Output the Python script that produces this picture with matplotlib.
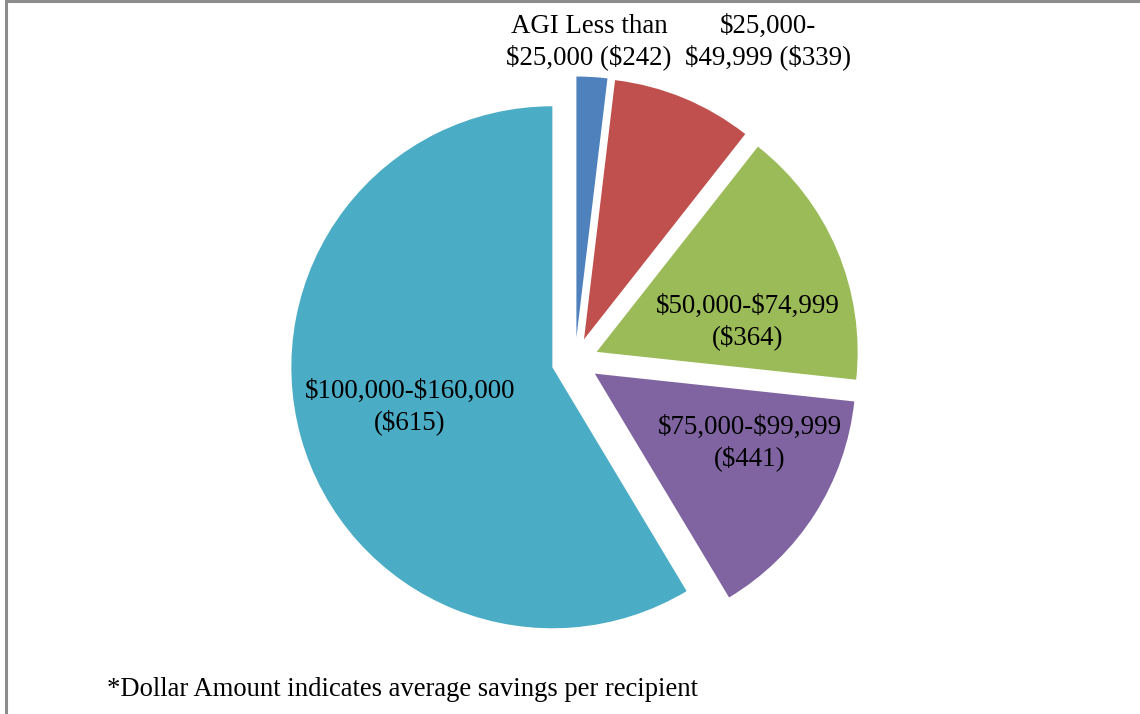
import matplotlib.pyplot as plt
from matplotlib.patches import Rectangle

# share of total savings by AGI bracket
brackets = ['AGI Less than $25,000', '$25,000-$49,999', '$50,000-$74,999',
            '$75,000-$99,999', '$100,000-$160,000']
shares = [1.9, 8.7, 16.1, 14.7, 58.6]
avg_savings = ['$242', '$339', '$364', '$441', '$615']
colors = ['#4F81BD', '#C0504D', '#9BBB59', '#8064A2', '#4BACC6']

label_text = [
    'AGI Less than\n$25,000 ($242)',
    '$25,000-\n$49,999 ($339)',
    '$50,000-$74,999\n($364)',
    '$75,000-$99,999\n($441)',
    '$100,000-$160,000\n($615)',
]
# label centres in pixels (x, y from top)
label_pos = [(589, 42), (768, 42), (748, 322), (750, 443), (410, 407)]

plt.rcParams['font.family'] = ['Liberation Serif', 'DejaVu Serif']
plt.rcParams['text.parse_math'] = False

W, H = 1140, 714
fig = plt.figure(figsize=(W / 100, H / 100), dpi=100)

# pie centre and radius in pixels
cx, cy, R = 575, 361, 261
half = 1.15 * R
ax = fig.add_axes([(cx - half) / W, (H - cy - half) / H, 2 * half / W, 2 * half / H])
ax.pie(shares, colors=colors, startangle=90, counterclock=False,
       explode=[0.09] * len(shares), radius=1.0,
       wedgeprops=dict(linewidth=0))
ax.set_xlim(-1.15, 1.15)
ax.set_ylim(-1.15, 1.15)
ax.set_aspect('equal')
ax.axis('off')

for txt, (x, y) in zip(label_text, label_pos):
    fig.text(x / W, 1 - y / H, txt, ha='center', va='center',
             fontsize=19.4, linespacing=1.28, color='black')

fig.text(107 / W, 1 - 690 / H,
         '*Dollar Amount indicates average savings per recipient',
         ha='left', va='center', fontsize=19.2, color='black')

# chart area border (runs off the right and bottom edges)
fig.add_artist(Rectangle((6 / W, -0.1), 2, 1.1 - 1.5 / H,
                         transform=fig.transFigure, fill=False,
                         edgecolor='#8c8c8c', linewidth=2.2))

fig.savefig('out.png', dpi=100)
